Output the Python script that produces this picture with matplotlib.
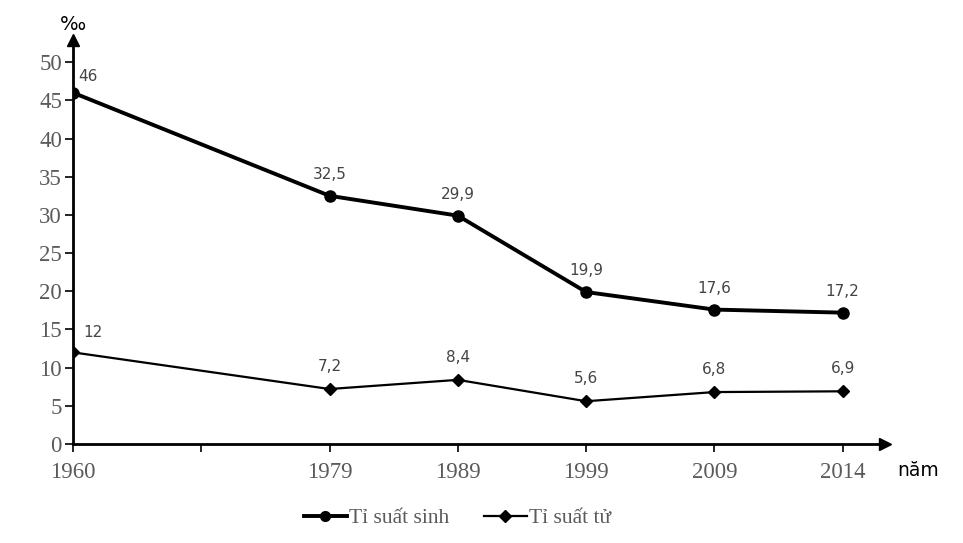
import matplotlib.pyplot as plt
from matplotlib.lines import Line2D

# data
years = ['1960', '1979', '1989', '1999', '2009', '2014']
xpos = [0, 2, 3, 4, 5, 6]
sinh = [46, 32.5, 29.9, 19.9, 17.6, 17.2]
tu = [12, 7.2, 8.4, 5.6, 6.8, 6.9]
sinh_labels = ['46', '32,5', '29,9', '19,9', '17,6', '17,2']
tu_labels = ['12', '7,2', '8,4', '5,6', '6,8', '6,9']

serif = 'Liberation Serif'
grey = '#5a5a5a'
lblc = '#444444'

fig = plt.figure(figsize=(9.63, 5.43), dpi=100)
ax = fig.add_axes([73 / 963, 1 - 444 / 543, (885 - 73) / 963, (444 - 40) / 543])
ax.set_xlim(0, 6.33)
ax.set_ylim(0, 52.9)

ax.plot(xpos, sinh, color='black', lw=2.8, marker='o', ms=8, zorder=3)
ax.plot(xpos, tu, color='black', lw=1.6, marker='D', ms=6.5, zorder=3)

for i, (x, y) in enumerate(zip(xpos, sinh)):
    if i == 0:
        ax.annotate(sinh_labels[i], (x, y), xytext=(11, 6), textcoords='offset points',
                    ha='center', va='bottom', fontsize=11, color=lblc)
    else:
        ax.annotate(sinh_labels[i], (x, y), xytext=(0, 10), textcoords='offset points',
                    ha='center', va='bottom', fontsize=11, color=lblc)
for i, (x, y) in enumerate(zip(xpos, tu)):
    if i == 0:
        ax.annotate(tu_labels[i], (x, y), xytext=(14, 9), textcoords='offset points',
                    ha='center', va='bottom', fontsize=11, color=lblc)
    else:
        ax.annotate(tu_labels[i], (x, y), xytext=(0, 11), textcoords='offset points',
                    ha='center', va='bottom', fontsize=11, color=lblc)

# axes with arrows
for s in ['top', 'right']:
    ax.spines[s].set_visible(False)
ax.spines['left'].set_linewidth(2)
ax.spines['bottom'].set_linewidth(2)
ax.plot(1, 0, '>k', ms=8, transform=ax.transAxes, clip_on=False)
ax.plot(0, 1, '^k', ms=8, transform=ax.transAxes, clip_on=False)

ax.set_yticks(range(0, 51, 5))
ax.set_xticks(range(0, 7))
ax.set_xticklabels(['1960', ''] + years[1:])
ax.tick_params(axis='both', direction='out', length=6, width=1.2, color='black',
               labelcolor=grey, labelsize=16.5)
ax.tick_params(axis='y', pad=2)
ax.tick_params(axis='x', pad=7)
for lab in ax.get_xticklabels() + ax.get_yticklabels():
    lab.set_fontfamily(serif)

ax.text(0, 1.015, '‰', transform=ax.transAxes, ha='center', va='bottom', fontsize=14)
fig.text(918 / 963, 1 - 470 / 543, 'năm', ha='center', va='center', fontsize=13.5)

handles = [Line2D([], [], color='black', lw=2.8, marker='o', ms=7),
           Line2D([], [], color='black', lw=1.6, marker='D', ms=6)]
fig.legend(handles, ['Tỉ suất sinh', 'Tỉ suất tử'], loc='center', bbox_to_anchor=(0.475, 1 - 518 / 543),
           ncol=2, frameon=False, prop={'family': serif, 'size': 15.5}, handlelength=2.0,
           handletextpad=0.1, columnspacing=1.6, labelcolor=grey)

fig.savefig('out.png', dpi=100)
